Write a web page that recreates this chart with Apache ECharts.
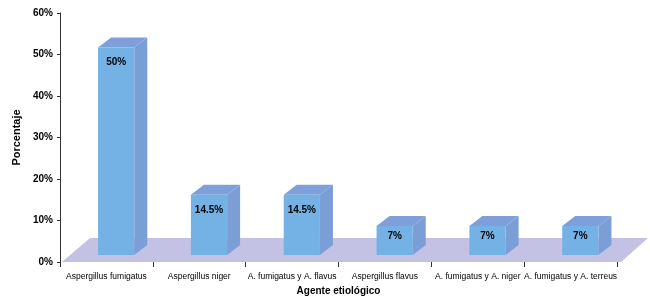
<!DOCTYPE html>
<html>
<head>
<meta charset="utf-8">
<script src="https://cdn.jsdelivr.net/npm/echarts@6/dist/echarts.min.js"></script>
<style>
html, body { margin: 0; padding: 0; background: #fff; }
#chart { width: 650px; height: 304px; }
</style>
</head>
<body>
<div id="chart"></div>
<script>
// datos
var categorias = ['Aspergillus fumigatus', 'Aspergillus niger', 'A. fumigatus y A. flavus',
    'Aspergillus flavus', 'A. fumigatus y A. niger', 'A. fumigatus y A. terreus'];
var porcentajes = [50, 14.5, 14.5, 7, 7, 7];
var etiquetas = ['50%', '14.5%', '14.5%', '7%', '7%', '7%'];
var ticksY = [0, 10, 20, 30, 40, 50, 60];

var fuente = '"Liberation Sans", Arial, sans-serif';

var myChart = echarts.init(document.getElementById('chart'));

// piso 3D
function renderPiso(params, api) {
    var cs = params.coordSys;
    var y0 = api.coord([0, 0])[1];
    return {
        type: 'polygon',
        shape: {
            points: [
                [cs.x + 2, y0],
                [cs.x + 30, y0 - 24],
                [cs.x + cs.width + 31, y0 - 24],
                [cs.x + cs.width + 4, y0]
            ]
        },
        style: { fill: '#c4c2e4' }
    };
}

// barras 3D
function renderBarra(params, api) {
    var idx = api.value(0);
    var base = api.coord([idx, 0]);
    var tope = api.coord([idx, api.value(1)]);
    var banda = api.size([1, 0])[0];
    var x0 = base[0] - banda * 0.09;
    var w = banda * 0.39;
    var yb = base[1] - 7;
    var yt = tope[1] - 7;
    var dx = 13, dy = 10;
    var h = yb - yt;
    var ylab = yt + Math.min(15, h / 2 - 4);
    return {
        type: 'group',
        children: [
            {
                type: 'polygon',
                shape: { points: [[x0 + w, yt], [x0 + w + dx, yt - dy], [x0 + w + dx, yb - dy], [x0 + w, yb]] },
                style: { fill: '#7b9ed7' }
            },
            {
                type: 'polygon',
                shape: { points: [[x0, yt], [x0 + dx, yt - dy], [x0 + w + dx, yt - dy], [x0 + w, yt]] },
                style: { fill: '#7e9fd9' }
            },
            {
                type: 'rect',
                shape: { x: x0, y: yt, width: w, height: h },
                style: { fill: '#74b2e6' }
            },
            {
                type: 'text',
                x: x0 + w / 2,
                y: ylab,
                style: {
                    text: etiquetas[idx],
                    fill: '#000',
                    font: 'bold 10px ' + fuente,
                    align: 'center',
                    verticalAlign: 'middle'
                }
            }
        ]
    };
}

var datosBarras = [];
for (var i = 0; i < categorias.length; i++) {
    datosBarras.push([i, porcentajes[i]]);
}

var option = {
    animation: false,
    backgroundColor: '#fff',
    grid: { left: 60, right: 33, top: 13, bottom: 42 },
    xAxis: {
        type: 'category',
        data: categorias,
        name: 'Agente etiológico',
        nameLocation: 'middle',
        nameGap: 23,
        nameTextStyle: { color: '#000', fontSize: 10, fontWeight: 'bold', fontFamily: fuente },
        axisLine: { show: false },
        axisTick: { show: true, length: 5, lineStyle: { color: '#333' } },
        axisLabel: { interval: 0, margin: 10, color: '#000', fontSize: 8.5, fontFamily: fuente }
    },
    yAxis: {
        type: 'value',
        min: ticksY[0],
        max: ticksY[ticksY.length - 1],
        interval: 10,
        name: 'Porcentaje',
        nameLocation: 'middle',
        nameGap: 36,
        nameTextStyle: { color: '#000', fontSize: 11, fontWeight: 'bold', fontFamily: fuente },
        axisLine: { show: true, lineStyle: { color: '#333' } },
        axisTick: { show: true, length: 3, lineStyle: { color: '#333' } },
        axisLabel: { formatter: '{value}%', margin: 7, color: '#000', fontSize: 10, fontWeight: 'bold', fontFamily: fuente },
        splitLine: { show: false }
    },
    series: [
        {
            type: 'custom',
            renderItem: renderPiso,
            data: [[0, 0]],
            z: 1,
            silent: true
        },
        {
            type: 'custom',
            renderItem: renderBarra,
            encode: { x: 0, y: 1 },
            data: datosBarras,
            z: 2
        }
    ]
};
myChart.setOption(option);
</script>
</body>
</html>
